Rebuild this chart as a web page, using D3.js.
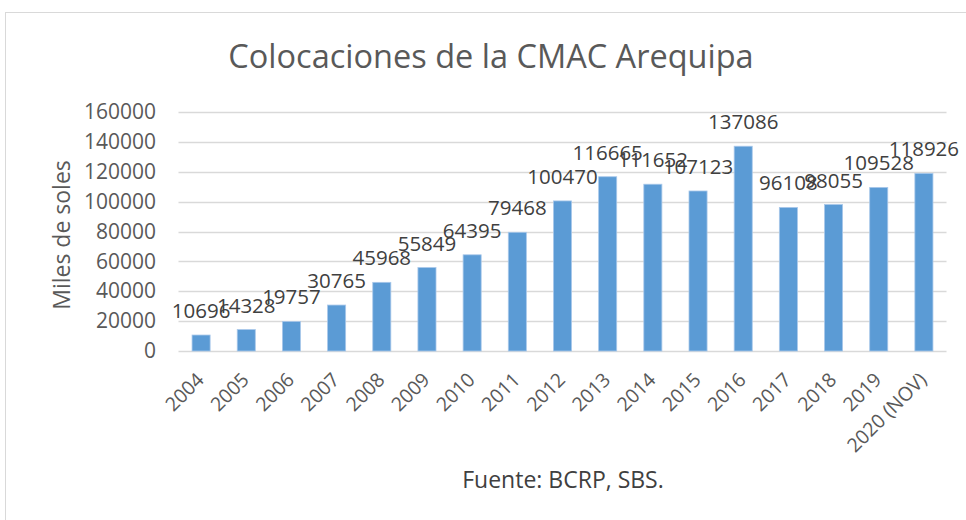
<!DOCTYPE html>
<meta charset="utf-8">
<style>
body { margin: 0; background: #fff; }
text { font-family: "Open Sans", sans-serif; }
</style>
<body>
<script src="https://d3js.org/d3.v7.min.js"></script>
<script>
// values (miles de soles)
const years = ["2004","2005","2006","2007","2008","2009","2010","2011","2012","2013","2014","2015","2016","2017","2018","2019","2020 (NOV)"];
const colocaciones = [10696,14328,19757,30765,45968,55849,64395,79468,100470,116665,111652,107123,137086,96108,98055,109528,118926];
const yTicks = [0,20000,40000,60000,80000,100000,120000,140000,160000];

const W = 966, H = 520;
const svg = d3.select("body").append("svg")
   .attr("width", W)
   .attr("height", H);

// chart frame
svg.append("rect")
   .attr("x", 5.5).attr("y", 12.5)
   .attr("width", W + 10).attr("height", H + 10)
   .attr("fill", "none")
   .attr("stroke", "#d9d9d9");

const x = d3.scaleBand()
   .domain(years)
   .range([178.5, 946.5])
   .paddingInner(0.6)
   .paddingOuter(0.3);

const y = d3.scaleLinear()
   .domain([0, 160000])
   .range([351, 112]);

// gridlines
svg.append("g")
   .selectAll("line")
   .data(yTicks)
   .join("line")
   .attr("x1", 178.5).attr("x2", 946.5)
   .attr("y1", d => Math.round(y(d)) + 0.5)
   .attr("y2", d => Math.round(y(d)) + 0.5)
   .attr("stroke", "#d9d9d9")
   .attr("stroke-width", 1.3);

// y axis labels
const yAxis = d3.axisLeft(y).tickValues(yTicks).tickSize(0).tickPadding(0).tickFormat(d => d);
svg.append("g")
   .attr("transform", "translate(156,0)")
   .call(yAxis)
   .call(g => g.select(".domain").remove())
   .selectAll("text")
   .attr("fill", "#595959")
   .style("font-size", "21px")
   .style("font-family", "'Open Sans', sans-serif");

// bars
svg.append("g")
   .selectAll("rect")
   .data(colocaciones)
   .join("rect")
   .attr("x", (d, i) => x(years[i]))
   .attr("y", d => y(d))
   .attr("width", x.bandwidth())
   .attr("height", d => y(0) - y(d))
   .attr("fill", "#5b9bd5")
   .attr("stroke", "#a9c8ea")
   .attr("stroke-width", 0.8);

// data labels
svg.append("g")
   .selectAll("text")
   .data(colocaciones)
   .join("text")
   .attr("x", (d, i) => x(years[i]) + x.bandwidth() / 2)
   .attr("y", d => y(d) - 17)
   .attr("text-anchor", "middle")
   .attr("fill", "#404040")
   .style("font-size", "20.5px")
   .text(d => d);

// x axis labels
const xAxis = d3.axisBottom(x).tickSize(0).tickPadding(0);
svg.append("g")
   .attr("transform", "translate(0,351)")
   .call(xAxis)
   .call(g => g.select(".domain").remove())
   .selectAll("text")
   .attr("fill", "#595959")
   .attr("dy", 0)
   .attr("y", 0)
   .attr("text-anchor", "end")
   .attr("transform", "translate(4,30) rotate(-45)")
   .style("font-size", "19.5px")
   .style("font-family", "'Open Sans', sans-serif");

// titles
svg.append("text")
   .attr("x", 491).attr("y", 68)
   .attr("text-anchor", "middle")
   .attr("fill", "#595959")
   .style("font-size", "32.5px")
   .text("Colocaciones de la CMAC Arequipa");

svg.append("text")
   .attr("transform", "translate(70,235) rotate(-90)")
   .attr("text-anchor", "middle")
   .attr("fill", "#595959")
   .style("font-size", "23px")
   .text("Miles de soles");

svg.append("text")
   .attr("x", 563).attr("y", 488)
   .attr("text-anchor", "middle")
   .attr("fill", "#404040")
   .style("font-size", "23px")
   .text("Fuente: BCRP, SBS.");
</script>
</body>
